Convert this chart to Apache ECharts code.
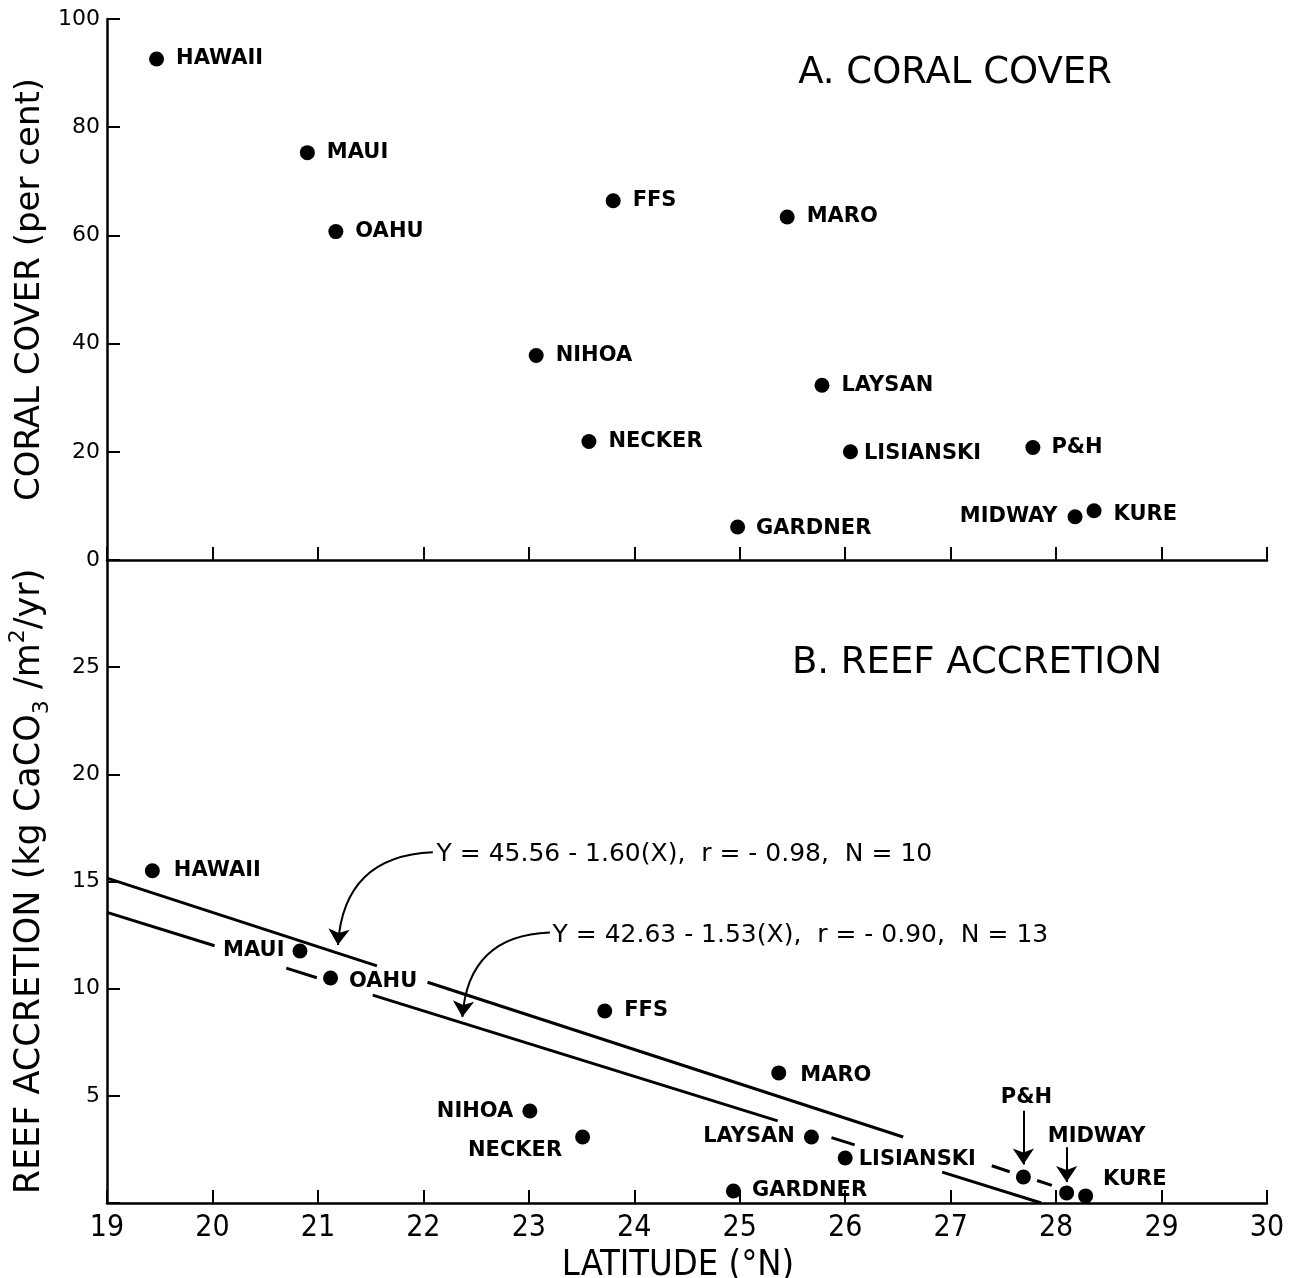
<!DOCTYPE html>
<html><head><meta charset="utf-8">
<script src="https://cdn.jsdelivr.net/npm/echarts@6/dist/echarts.min.js"></script>
<style>html,body{margin:0;padding:0;background:#fff}#c{width:1295px;height:1278px}</style>
</head><body><div id="c"></div>
<script>
// ---------- data ----------
const sites        = ['HAWAII','MAUI','OAHU','FFS','MARO','NIHOA','LAYSAN','NECKER','LISIANSKI','P&H','GARDNER','MIDWAY','KURE'];
const coverLat     = [19.47, 20.90, 21.17, 23.80, 25.45, 23.07, 25.78, 23.57, 26.05, 27.78, 24.98, 28.18, 28.36];
const coverPct     = [92.6, 75.3, 60.7, 66.4, 63.4, 37.8, 32.3, 21.9, 20.0, 20.8, 6.1, 8.0, 9.1];
const accretionLat = [19.43, 20.83, 21.12, 23.72, 25.37, 23.01, 25.68, 23.51, 26.00, 27.69, 24.94, 28.10, 28.28];
const accretionVal = [15.5, 11.76, 10.5, 8.96, 6.07, 4.29, 3.08, 3.08, 2.10, 1.21, 0.56, 0.47, 0.33];

const fit1Text = 'Y = 45.56 - 1.60(X),  r = - 0.98,  N = 10';
const fit2Text = 'Y = 42.63 - 1.53(X),  r = - 0.90,  N = 13';
// regression lines as drawn (broken around labels), [latitude, accretion]
const fit1Segments = [[[19,15.16],[21.56,11.06]],[[22.04,10.30],[26.55,3.08]],[[27.39,1.74],[27.56,1.46]],[[27.82,1.05],[27.96,0.82]]];
const fit2Segments = [[[19,13.56],[20.02,12.00]],[[20.70,10.96],[20.99,10.51]],[[21.52,9.70],[25.36,3.83]],[[25.87,3.05],[26.09,2.71]],[[26.92,1.44],[27.86,0]]];

const latMin = 19, latMax = 30, latStep = 1;
const coverMax = 100, coverStep = 20;
const accMax = 30, accStep = 5;

// ---------- layout / style ----------
const F = '"DejaVu Sans", "Liberation Sans", sans-serif';
const FC = '"DejaVu Sans Condensed", "Liberation Sans Narrow", "DejaVu Sans", sans-serif';
const INK = '#000';
const labelFont = {fontFamily: F, fontWeight: 'bold', fontSize: 21, color: INK, opacity: 1};

const labelsA = {
  MIDWAY: {position: 'left', distance: 10},
  KURE: {position: 'right', distance: 12, offset: [0, 4]},
  LISIANSKI: {position: 'right', distance: 6, offset: [0, 2]},
  GARDNER: {position: 'right', distance: 11, offset: [0, 2]},
  'P&H': {position: 'right', distance: 11}
};
const labelsB = {
  HAWAII: {position: 'right', distance: 14},
  MAUI: {position: 'left', distance: 8},
  OAHU: {position: 'right', distance: 11, offset: [0, 4]},
  MARO: {position: 'right', distance: 14, offset: [0, 3]},
  NIHOA: {position: 'left', distance: 9},
  NECKER: {position: 'left', distance: 13, offset: [0, 14]},
  LAYSAN: {position: 'left', distance: 9},
  LISIANSKI: {position: 'right', distance: 6, offset: [0, 2]},
  GARDNER: {position: 'right', distance: 11},
  'P&H': {position: 'top', distance: 62, offset: [3, 0]},
  MIDWAY: {position: 'top', distance: 38, offset: [30, 0]},
  KURE: {position: 'right', distance: 10, offset: [0, -16]}
};

function pts(lat, val, cfg) {
  return sites.map((s, i) => ({
    name: s, value: [lat[i], val[i]],
    label: Object.assign({show: true, formatter: s, position: 'right', distance: 12}, labelFont, cfg[s] || {})
  }));
}

const axisLine = {show: true, onZero: false, lineStyle: {color: INK, width: 2.5}};
const tickIn = {show: true, inside: true, length: 13, lineStyle: {color: INK, width: 2}};
const dot = {color: INK, opacity: 1};

const series = [
  {type: 'scatter', xAxisIndex: 0, yAxisIndex: 0, symbolSize: 15, itemStyle: dot,
   data: pts(coverLat, coverPct, labelsA)},
  {type: 'scatter', xAxisIndex: 1, yAxisIndex: 1, symbolSize: 15, itemStyle: dot,
   data: pts(accretionLat, accretionVal, labelsB)}
];
fit1Segments.concat(fit2Segments).forEach(seg => series.push({
  type: 'line', xAxisIndex: 1, yAxisIndex: 1, data: seg, symbol: 'none',
  lineStyle: {color: INK, width: 3}, z: 1
}));
// annotation arrows
series.push({
  type: 'lines', coordinateSystem: 'cartesian2d', xAxisIndex: 1, yAxisIndex: 1,
  symbol: ['none', 'arrow'], symbolSize: [10, 16],
  lineStyle: {color: INK, width: 2, opacity: 1},
  data: [
    {coords: [[22.09, 16.36], [21.19, 12.04]], lineStyle: {curveness: -0.45}},
    {coords: [[23.20, 12.62], [22.37, 8.68]], lineStyle: {curveness: -0.45}},
    {coords: [[27.69, 4.30], [27.69, 1.80]], lineStyle: {curveness: 0}},
    {coords: [[28.10, 2.60], [28.10, 0.98]], lineStyle: {curveness: 0}}
  ]
});
// equation texts
[[fit1Text, [22.12, 16.24]], [fit2Text, [23.22, 12.46]]].forEach(([t, p]) => series.push({
  type: 'scatter', xAxisIndex: 1, yAxisIndex: 1, symbolSize: 1, itemStyle: {color: 'rgba(0,0,0,0)', opacity: 1},
  data: [p], label: {show: true, position: 'right', distance: 0, formatter: t, fontFamily: F, fontSize: 25, color: INK, opacity: 1}
}));

const chart = echarts.init(document.getElementById('c'), null, {renderer: 'canvas'});
chart.setOption({
  animation: false,
  backgroundColor: '#fff',
  grid: [
    {left: 107, top: 19, width: 1160, height: 541, containLabel: false, outerBoundsMode: 'none'},
    {left: 107, top: 560, width: 1160, height: 643, containLabel: false, outerBoundsMode: 'none'}
  ],
  xAxis: [
    {gridIndex: 0, type: 'value', min: latMin, max: latMax, interval: latStep,
     axisLine, axisTick: tickIn, axisLabel: {show: false}, splitLine: {show: false}},
    {gridIndex: 1, type: 'value', min: latMin, max: latMax, interval: latStep,
     axisLine, axisTick: tickIn, splitLine: {show: false},
     axisLabel: {margin: 10, fontFamily: FC, fontSize: 30, color: INK},
     name: 'LATITUDE (°N)', nameLocation: 'middle', nameGap: 42,
     nameTextStyle: {fontFamily: FC, fontSize: 36, color: INK, padding: [0, 18, 0, 0]}}
  ],
  yAxis: [
    {gridIndex: 0, type: 'value', min: 0, max: coverMax, interval: coverStep,
     axisLine, axisTick: tickIn, splitLine: {show: false},
     axisLabel: {margin: 7, fontFamily: F, fontSize: 22, color: INK},
     name: 'CORAL COVER (per cent)', nameLocation: 'middle', nameGap: 58,
     nameTextStyle: {fontFamily: F, fontSize: 34, color: INK}},
    {gridIndex: 1, type: 'value', min: 0, max: accMax, interval: accStep,
     axisLine, axisTick: tickIn, splitLine: {show: false},
     axisLabel: {margin: 7, fontFamily: F, fontSize: 22, color: INK,
       formatter: v => (v === 0 || v === accMax) ? '' : String(v)},
     name: '{a|REEF ACCRETION (kg CaCO}{s|3}{a| /m}{p|2}{a|/yr)}', nameLocation: 'middle', nameGap: 54,
     nameTextStyle: {rich: {
       a: {fontFamily: F, fontSize: 35, color: INK, lineHeight: 46, verticalAlign: 'middle'},
       s: {fontFamily: F, fontSize: 22, color: INK, lineHeight: 46, verticalAlign: 'bottom'},
       p: {fontFamily: F, fontSize: 22, color: INK, lineHeight: 46, verticalAlign: 'top'}
     }}}
  ],
  graphic: [
    {type: 'text', x: 955, y: 73, style: {text: 'A. CORAL COVER', fill: INK, font: '37px ' + F, align: 'center', verticalAlign: 'middle'}},
    {type: 'text', x: 977, y: 663, style: {text: 'B. REEF ACCRETION', fill: INK, font: '37px ' + F, align: 'center', verticalAlign: 'middle'}}
  ],
  series
});
</script>
</body></html>
